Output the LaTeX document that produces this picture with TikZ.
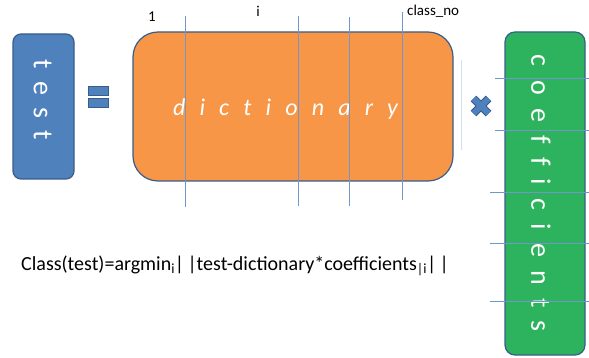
\documentclass[tikz,border=0pt]{standalone}
\usepackage{fontspec}
\setmainfont{Carlito}
\usetikzlibrary{positioning}

\definecolor{boxblue}{HTML}{4F81BD}
\definecolor{edgeblue}{HTML}{385D8A}
\definecolor{dictorange}{HTML}{F79646}
\definecolor{coefgreen}{HTML}{2DB35D}
\definecolor{gridblue}{HTML}{7396C8}

% spread a spaced word over a given length
\newcommand{\spreadword}[2]{\makebox[#1][s]{#2}}

\begin{document}
\begin{tikzpicture}[
    x=1pt, y=-1pt,
    block/.style={
      draw=edgeblue,
      line width=1.2pt,
      text=white,
      inner sep=0pt,
    },
    vword/.style={
      text=white,
      rotate=-90,
      inner sep=0pt,
      font=\fontsize{28}{32}\selectfont,
    },
    eqbar/.style={
      block,
      fill=boxblue,
      line width=0.8pt,
      minimum width=20pt,
      minimum height=9pt,
    },
    colline/.style={
      draw=gridblue,
      line width=0.8pt,
    },
    idxlabel/.style={
      font=\fontsize{15}{17}\selectfont,
      inner sep=0pt,
    },
  ]
  \useasboundingbox (0,0) rectangle (589,358);

  % --- test vector ---
  \node[block, fill=boxblue, rounded corners=8pt,
        minimum width=61pt, minimum height=145pt] (test) at (43.5,106.5) {};
  \node[vword] (testname) at ([xshift=-1pt, yshift=6.5pt]test.center)
    {\spreadword{80pt}{t e s t}};

  % --- equals sign ---
  \node[eqbar] (eqtop) at (98,91.3) {};
  \node[eqbar] (eqbot) at (98,102.7) {};

  % --- dictionary matrix ---
  \node[block, fill=dictorange, rounded corners=25pt,
        minimum width=320pt, minimum height=149pt] (dict) at (293,106.5) {};
  \node[text=white, inner sep=0pt, anchor=base, font=\fontsize{24}{28}\selectfont\itshape]
    (dictname) at (285.5,116) {\spreadword{225pt}{d i c t i o n a r y}};

  % --- columns of the dictionary ---
  \coordinate (c1) at (185,16);
  \coordinate (ci) at (298,16);
  \coordinate (cj) at (349,17);
  \coordinate (cn) at (402,12);
  \draw[colline] (c1) -- ++(0,191);
  \draw[colline] (ci) -- ++(0,190);
  \draw[colline] (cj) -- ++(0,189);
  \draw[colline] (cn) -- ++(0,188);
  \draw[colline, draw=gridblue!30] (461,60) -- (461,150);

  \node[idxlabel] (lab1) at (152,17) {1};
  \node[idxlabel] (labi) at (258,11) {i};
  \node[idxlabel, anchor=west] (labn) at (407,11) {class\_no};

  % --- times sign ---
  \coordinate (times) at (481,106);
  \draw[edgeblue, line width=8pt] ([shift={(-7.5,-7.5)}]times) -- ([shift={(7.5,7.5)}]times)
    ([shift={(-7.5,7.5)}]times) -- ([shift={(7.5,-7.5)}]times);
  \draw[boxblue, line width=6pt] ([shift={(-7.6,-7.6)}]times) -- ([shift={(7.6,7.6)}]times)
    ([shift={(-7.6,7.6)}]times) -- ([shift={(7.6,-7.6)}]times);

  % --- coefficient vector ---
  \node[block, fill=coefgreen, rounded corners=10pt,
        minimum width=80pt, minimum height=323pt] (coef) at (545,193.5) {};
  \node[vword] (coefname) at ([xshift=-4pt]coef.center)
    {\spreadword{277pt}{c o e f f i c i e n t s}};

  % --- rows of the coefficient vector ---
  \draw[colline] (495,78) -- (589,78);
  \draw[colline] (495,130) -- (589,130);
  \draw[colline] (490,192) -- (589,192);
  \draw[colline] (490,243) -- (589,243);
  \draw[colline] (490,301) -- (589,301);

  % --- classification rule ---
  \node[anchor=west, inner sep=0pt, font=\fontsize{20}{24}\selectfont] (rule) at (21,266)
    {Class(test)=argmin\textsubscript{i}|\,|test-dictionary*coefficients\textsubscript{|i}|\,|};

\end{tikzpicture}
\end{document}
